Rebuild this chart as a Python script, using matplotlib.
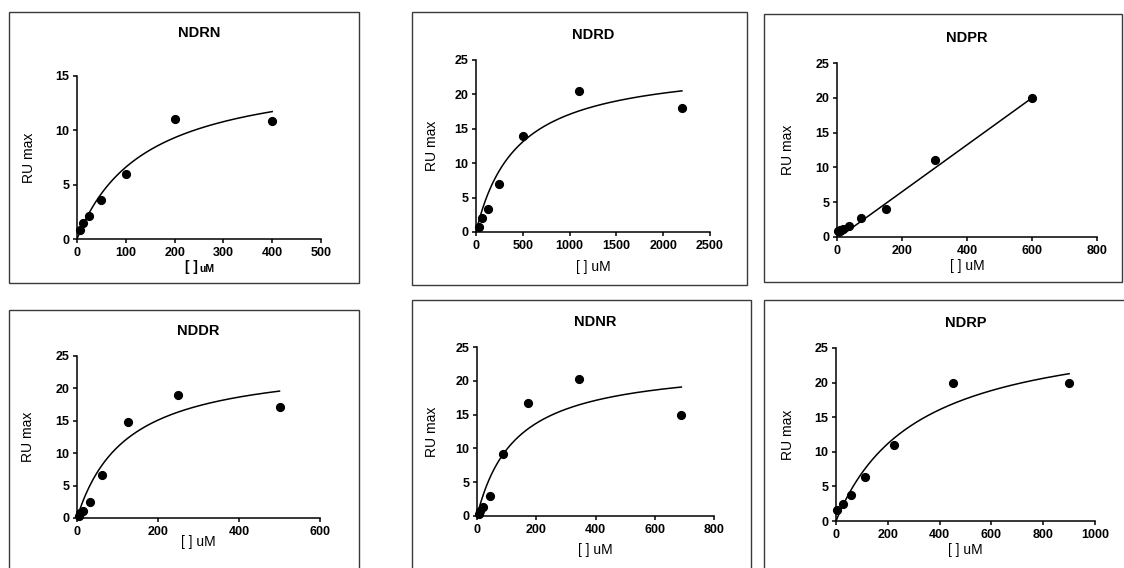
import numpy as np
import matplotlib
matplotlib.use("Agg")
import matplotlib.pyplot as plt
from matplotlib.patches import Rectangle

plt.rcParams['font.family'] = ['Liberation Sans', 'DejaVu Sans']

W, H = 1124, 568

# ---------------- data ----------------
titles = ["NDRN", "NDRD", "NDPR", "NDDR", "NDNR", "NDRP"]

ndrn_x = [6.25, 12.5, 25, 50, 100, 200, 400]
ndrn_y = [0.8, 1.5, 2.1, 3.6, 6.0, 11.0, 10.9]

ndrd_x = [31.25, 62.5, 125, 250, 500, 1100, 2200]
ndrd_y = [0.7, 2.0, 3.3, 7.0, 14.0, 20.5, 18.0]

ndpr_x = [2.3, 9.4, 18.75, 37.5, 75, 150, 300, 600]
ndpr_y = [0.9, 1.0, 1.2, 1.6, 2.7, 4.0, 11.0, 20.0]

nddr_x = [3.9, 7.8, 15.6, 31.25, 62.5, 125, 250, 500]
nddr_y = [0.3, 0.8, 1.1, 2.4, 6.6, 14.8, 19.0, 17.1]

ndnr_x = [5.4, 10.8, 21.6, 43.1, 86.25, 172.5, 345, 690]
ndnr_y = [0.3, 0.7, 1.3, 3.0, 9.1, 16.7, 20.3, 14.9]

ndrp_x = [3.5, 28.1, 56.25, 112.5, 225, 450, 900]
ndrp_y = [1.6, 2.5, 3.7, 6.3, 11.0, 19.9, 19.9]

# fitted model parameters (one-site binding: Bmax*x/(Kd+x); linear for NDPR)
ndrn_fit = ("hyper", 15.8, 139.0)
ndrd_fit = ("hyper", 24.6, 438.0)
ndpr_fit = ("line", 0.0337, -0.24)
nddr_fit = ("hyper", 24.4, 123.0)
ndnr_fit = ("hyper", 22.7, 131.0)
ndrp_fit = ("hyper", 28.7, 313.5)

x_ticks = [[0, 100, 200, 300, 400, 500],
           [0, 500, 1000, 1500, 2000, 2500],
           [0, 200, 400, 600, 800],
           [0, 200, 400, 600],
           [0, 200, 400, 600, 800],
           [0, 200, 400, 600, 800, 1000]]
y_ticks = [[0, 5, 10, 15]] + [[0, 5, 10, 15, 20, 25]] * 5

xs = [ndrn_x, ndrd_x, ndpr_x, nddr_x, ndnr_x, ndrp_x]
ys = [ndrn_y, ndrd_y, ndpr_y, nddr_y, ndnr_y, ndrp_y]
fits = [ndrn_fit, ndrd_fit, ndpr_fit, nddr_fit, ndnr_fit, ndrp_fit]

# ---------------- layout (pixels) ----------------
axes_px = [(77, 321, 76, 239),
           (476, 710, 60, 232),
           (837, 1097, 63, 237),
           (77, 320, 356, 518),
           (477, 714, 347, 516),
           (836, 1095, 348, 521)]
frames_px = [(9, 359, 12, 283),
             (412, 747, 12, 285),
             (764, 1122, 14, 282),
             (9, 359, 310, 575),
             (412, 751, 300, 575),
             (764, 1130, 300, 575)]
title_y = [33, 35, 38, 331, 322, 323]
xlabel_y = [267, 267, 266, 542, 550, 550]
ylabel_off = [48, 44, 49, 49, 45, 48]

fig = plt.figure(figsize=(W / 100, H / 100), dpi=100)
fig.patch.set_facecolor("white")


def fx(x):
    return x / W


def fy(y):
    return 1 - y / H


for (l, r, t, b) in frames_px:
    fig.patches.append(Rectangle((fx(l), fy(b)), fx(r) - fx(l), fy(t) - fy(b),
                                 transform=fig.transFigure, fill=False,
                                 edgecolor="#3a3a3a", linewidth=1.0))

for i in range(6):
    l, r, t, b = axes_px[i]
    ax = fig.add_axes([fx(l), fy(b), fx(r) - fx(l), fy(t) - fy(b)])
    ax.set_facecolor("none")
    xt, yt = x_ticks[i], y_ticks[i]
    ax.set_xlim(xt[0], xt[-1])
    ax.set_ylim(yt[0], yt[-1])
    ax.set_xticks(xt)
    ax.set_yticks(yt)
    for s in ["top", "right"]:
        ax.spines[s].set_visible(False)
    for s in ["left", "bottom"]:
        ax.spines[s].set_linewidth(1.1)
        ax.spines[s].set_color("black")
    ax.tick_params(direction="out", length=3, width=1.1, pad=2.5,
                   labelsize=9)
    for lab in ax.get_xticklabels() + ax.get_yticklabels():
        lab.set_fontweight("bold")

    xd, yd = xs[i], ys[i]
    kind, p1, p2 = fits[i]
    xc = np.linspace(0, max(xd), 400)
    if kind == "hyper":
        yc = p1 * xc / (p2 + xc)
    else:
        yc = p1 * xc + p2
    ax.plot(xc, yc, color="black", lw=1.1)
    ax.plot(xd, yd, "o", color="black", ms=5.6, clip_on=False, zorder=5)

    cx = (l + r) / 2
    fig.text(fx(cx), fy(title_y[i]), titles[i], ha="center", va="center",
             fontsize=10.5, fontweight="bold")
    fig.text(fx(l - ylabel_off[i]), fy((t + b) / 2), "RU max", ha="center",
             va="center", rotation=90, fontsize=10)
    if i == 0:
        fig.text(fx(cx - 1), fy(xlabel_y[i]), "[ ]", ha="right", va="center",
                 fontsize=10, fontweight="bold")
        fig.text(fx(cx), fy(xlabel_y[i] + 2), "uM", ha="left", va="center",
                 fontsize=7.5, fontweight="bold")
    else:
        fig.text(fx(cx), fy(xlabel_y[i]), "[ ] uM", ha="center", va="center",
                 fontsize=10)

fig.savefig("out.png", dpi=100, facecolor="white")
